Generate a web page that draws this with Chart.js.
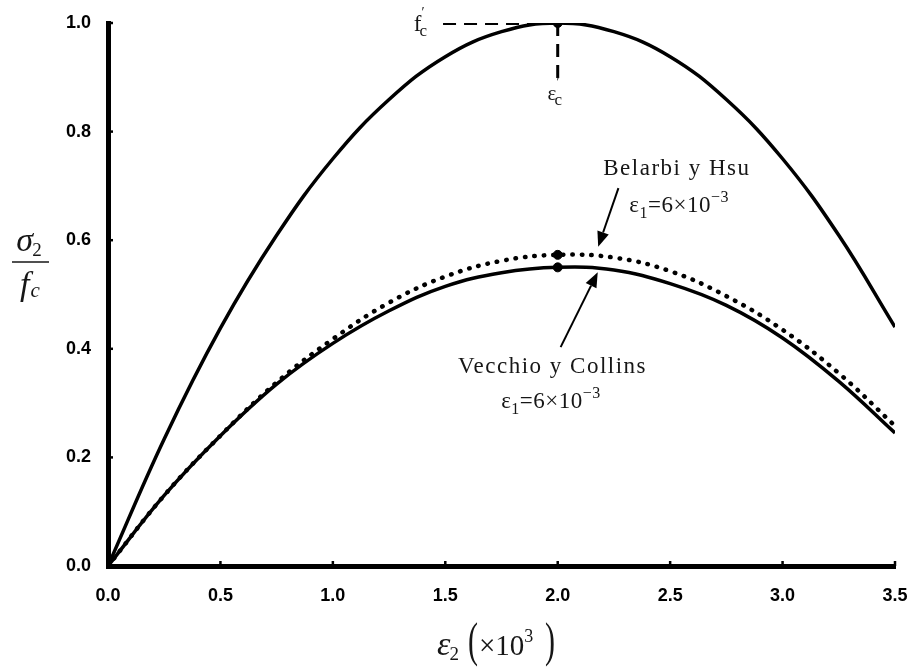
<!DOCTYPE html>
<html>
<head>
<meta charset="utf-8">
<script src="https://cdn.jsdelivr.net/npm/chart.js@4.4.1/dist/chart.umd.min.js"></script>
<style>
html, body { margin: 0; padding: 0; background: #fff; }
#wrap { position: relative; width: 914px; height: 668px; }
</style>
</head>
<body>
<div id="wrap"><canvas id="stressChart" width="914" height="668"></canvas></div>
<script>
// compressive strain eps2 (x10^3)
var strainX = [0, 0.25, 0.5, 0.75, 1.0, 1.25, 1.5, 1.75, 2.0, 2.25, 2.5, 2.75, 3.0, 3.25, 3.5];
// sigma2 / f'c
var uniaxial       = [0, 0.234, 0.438, 0.609, 0.75, 0.859, 0.938, 0.984, 1.0, 0.984, 0.938, 0.859, 0.75, 0.609, 0.44];
var vecchioCollins = [0, 0.13, 0.24, 0.335, 0.41, 0.47, 0.515, 0.54, 0.55, 0.545, 0.52, 0.48, 0.42, 0.34, 0.245];
var belarbiHsu     = [0, 0.13, 0.24, 0.338, 0.418, 0.485, 0.533, 0.562, 0.573, 0.568, 0.543, 0.497, 0.435, 0.355, 0.258];

var peakX = [2.0, 2.0, 2.0];
var peakY = [1.0, 0.573, 0.55];

var xTicks = [0, 0.5, 1.0, 1.5, 2.0, 2.5, 3.0, 3.5];
var yTicks = [0, 0.2, 0.4, 0.6, 0.8, 1.0];

// f'c and eps'c guide lines
var fcGuideX = [1.49, 2.0];
var fcGuideY = [1.0, 1.0];
var ecGuideX = [2.0, 2.0];
var ecGuideY = [1.0, 0.895];

// arrows pointing at the two biaxial curves (tail -> head)
var arrows = [
    { from: [2.27, 0.696], to: [2.18, 0.588] },
    { from: [2.013, 0.403], to: [2.178, 0.541] }
];

function pts(xs, ys) {
    return xs.map(function(x, i) { return { x: x, y: ys[i] }; });
}

var SERIF = '"Liberation Serif", "Times New Roman", serif';
var INK = '#161616';

// draw a row of text runs (sub/superscripts) starting at x, baseline y
function drawRuns(ctx, runs, x, y, align, spacing) {
    ctx.save();
    if ('letterSpacing' in ctx) ctx.letterSpacing = (spacing || 0) + 'px';
    var total = 0;
    runs.forEach(function(r) {
        ctx.font = (r.italic ? 'italic ' : '') + r.size + 'px ' + SERIF;
        r.w = ctx.measureText(r.text).width + (r.gap || 0);
        total += r.w;
    });
    var cx = align === 'center' ? x - total / 2 : x;
    ctx.fillStyle = INK;
    ctx.textBaseline = 'alphabetic';
    ctx.textAlign = 'left';
    runs.forEach(function(r) {
        ctx.font = (r.italic ? 'italic ' : '') + r.size + 'px ' + SERIF;
        ctx.fillText(r.text, cx + (r.dx || 0), y + (r.dy || 0));
        cx += r.w;
    });
    ctx.restore();
}

// tall thin bracket, stretched vertically around centre (x, cy)
function drawBracket(ctx, ch, x, cy, size, stretch) {
    ctx.save();
    ctx.fillStyle = INK;
    ctx.font = size + 'px ' + SERIF;
    ctx.textBaseline = 'middle';
    ctx.textAlign = 'center';
    ctx.setTransform(1, 0, 0, stretch, 0, 0);
    ctx.fillText(ch, x, cy / stretch);
    ctx.restore();
}

var annotations = {
    id: 'annotations',
    afterDraw: function(chart) {
        var ctx = chart.ctx;
        var xs = chart.scales.x, ys = chart.scales.y;
        var px = function(v) { return xs.getPixelForValue(v); };
        var py = function(v) { return ys.getPixelForValue(v); };

        // small inward tick marks
        ctx.save();
        ctx.strokeStyle = '#000';
        ctx.lineWidth = 2.5;
        xTicks.forEach(function(v) {
            ctx.beginPath();
            ctx.moveTo(px(v), ys.bottom);
            ctx.lineTo(px(v), ys.bottom - 5);
            ctx.stroke();
        });
        yTicks.forEach(function(v) {
            ctx.beginPath();
            ctx.moveTo(xs.left, py(v));
            ctx.lineTo(xs.left + 5, py(v));
            ctx.stroke();
        });
        ctx.restore();

        // arrows
        ctx.save();
        ctx.strokeStyle = '#000';
        ctx.fillStyle = '#000';
        ctx.lineWidth = 2;
        arrows.forEach(function(a) {
            var x0 = px(a.from[0]), y0 = py(a.from[1]);
            var x1 = px(a.to[0]), y1 = py(a.to[1]);
            var ang = Math.atan2(y1 - y0, x1 - x0);
            var hl = 15, hw = 6;
            ctx.beginPath();
            ctx.moveTo(x0, y0);
            ctx.lineTo(x1 - Math.cos(ang) * hl, y1 - Math.sin(ang) * hl);
            ctx.stroke();
            ctx.beginPath();
            ctx.moveTo(x1, y1);
            ctx.lineTo(x1 - Math.cos(ang) * hl - Math.sin(ang) * hw, y1 - Math.sin(ang) * hl + Math.cos(ang) * hw);
            ctx.lineTo(x1 - Math.cos(ang) * hl + Math.sin(ang) * hw, y1 - Math.sin(ang) * hl - Math.cos(ang) * hw);
            ctx.closePath();
            ctx.fill();
        });
        ctx.restore();

        // curve labels
        drawRuns(ctx, [{ text: 'Belarbi y Hsu', size: 23 }], px(2.53), py(0.72), 'center', 1.5);
        drawRuns(ctx, [
            { text: '\u03b5', size: 23 },
            { text: '1', size: 16, dy: 6 },
            { text: '=6\u00d710', size: 23 },
            { text: '\u22123', size: 16, dy: -10 }
        ], px(2.54), py(0.652), 'center', 0.5);
        drawRuns(ctx, [{ text: 'Vecchio y Collins', size: 23 }], px(1.977), py(0.355), 'center', 1.5);
        drawRuns(ctx, [
            { text: '\u03b5', size: 23 },
            { text: '1', size: 16, dy: 6 },
            { text: '=6\u00d710', size: 23 },
            { text: '\u22123', size: 16, dy: -10 }
        ], px(1.97), py(0.291), 'center', 0.5);

        // f'c and eps'c
        drawRuns(ctx, [
            { text: 'f', size: 23 },
            { text: '\u2032', size: 14, dy: -14, dx: 0, gap: -5 },
            { text: 'c', size: 17, dy: 5 }
        ], px(1.36), py(0.985), 'left', 0);
        drawRuns(ctx, [
            { text: '\u03b5', size: 21 },
            { text: '\u2032', size: 14, dy: -13, dx: 0, gap: -5 },
            { text: 'c', size: 17, dy: 5 }
        ], px(1.955), py(0.858), 'left', 0);

        // y axis title: sigma2 / fc
        ctx.save();
        ctx.strokeStyle = INK;
        ctx.lineWidth = 1.4;
        ctx.beginPath();
        ctx.moveTo(12, 262);
        ctx.lineTo(49, 262);
        ctx.stroke();
        ctx.restore();
        drawRuns(ctx, [
            { text: '\u03c3', size: 34, italic: true, gap: -1 },
            { text: '2', size: 19, dy: 5 }
        ], 29, 251, 'center', 0);
        drawRuns(ctx, [
            { text: 'f', size: 34, italic: true, gap: 1 },
            { text: 'c', size: 21, italic: true, dy: 2 }
        ], 30, 295, 'center', 0);

        // x axis title: eps2 (x10^3)
        drawRuns(ctx, [
            { text: '\u03b5', size: 34, italic: true, gap: -1 },
            { text: '2', size: 19, dy: 5 }
        ], 437, 655, 'left', 0);
        drawBracket(ctx, '(', 473, 643, 30, 1.65);
        drawBracket(ctx, ')', 550, 643, 30, 1.65);
        drawRuns(ctx, [
            { text: '\u00d710', size: 29 },
            { text: '3', size: 18, dy: -13 }
        ], 479, 655, 'left', 0);
    }
};

var ctx = document.getElementById('stressChart').getContext('2d');

var tickFont = { family: '"Liberation Sans", Arial, sans-serif', size: 18, weight: 'bold' };

// tick marks kept invisible: their length only spaces the labels off the axis
function hiddenTicks(len) {
    return {
        display: true,
        drawOnChartArea: false,
        drawTicks: true,
        tickLength: len,
        tickColor: 'rgba(0,0,0,0)'
    };
}

new Chart(ctx, {
    type: 'line',
    data: {
        datasets: [
            {
                label: 'uniaxial',
                data: pts(strainX, uniaxial),
                borderColor: '#000',
                borderWidth: 3.5,
                pointRadius: 0,
                tension: 0.4
            },
            {
                label: 'Vecchio y Collins',
                data: pts(strainX, vecchioCollins),
                borderColor: '#000',
                borderWidth: 3.5,
                pointRadius: 0,
                tension: 0.4
            },
            {
                label: 'Belarbi y Hsu',
                data: pts(strainX, belarbiHsu),
                borderColor: '#000',
                borderWidth: 4.5,
                borderDash: [0.5, 9],
                borderCapStyle: 'round',
                pointRadius: 0,
                tension: 0.4
            },
            {
                label: 'fc guide',
                data: pts(fcGuideX, fcGuideY),
                borderColor: '#000',
                borderWidth: 4,
                borderDash: [13, 8],
                pointRadius: 0
            },
            {
                label: 'ec guide',
                data: pts(ecGuideX, ecGuideY),
                borderColor: '#000',
                borderWidth: 3,
                borderDash: [13, 8],
                pointRadius: 0
            },
            {
                type: 'scatter',
                label: 'peaks',
                data: pts(peakX, peakY),
                backgroundColor: '#000',
                borderColor: '#000',
                pointRadius: 4.5
            }
        ]
    },
    options: {
        responsive: false,
        animation: false,
        layout: { autoPadding: false, padding: { top: 23, right: 19, left: 0, bottom: 0 } },
        plugins: {
            legend: { display: false },
            tooltip: { enabled: false }
        },
        scales: {
            x: {
                type: 'linear',
                min: 0,
                max: 3.5,
                afterBuildTicks: function(axis) {
                    axis.ticks = xTicks.map(function(v) { return { value: v }; });
                },
                afterFit: function(scale) { scale.height = 102; },
                grid: hiddenTicks(19),
                border: { display: true, color: '#000', width: 5 },
                ticks: {
                    padding: 0,
                    color: '#000',
                    font: tickFont,
                    callback: function(v) { return v.toFixed(1); }
                }
            },
            y: {
                type: 'linear',
                min: 0,
                max: 1.0,
                afterBuildTicks: function(axis) {
                    axis.ticks = yTicks.map(function(v) { return { value: v }; });
                },
                afterFit: function(scale) { scale.width = 108; },
                grid: hiddenTicks(17),
                border: { display: true, color: '#000', width: 5 },
                ticks: {
                    padding: 0,
                    color: '#000',
                    font: tickFont,
                    callback: function(v) { return v.toFixed(1); }
                }
            }
        }
    },
    plugins: [annotations]
});
</script>
</body>
</html>
